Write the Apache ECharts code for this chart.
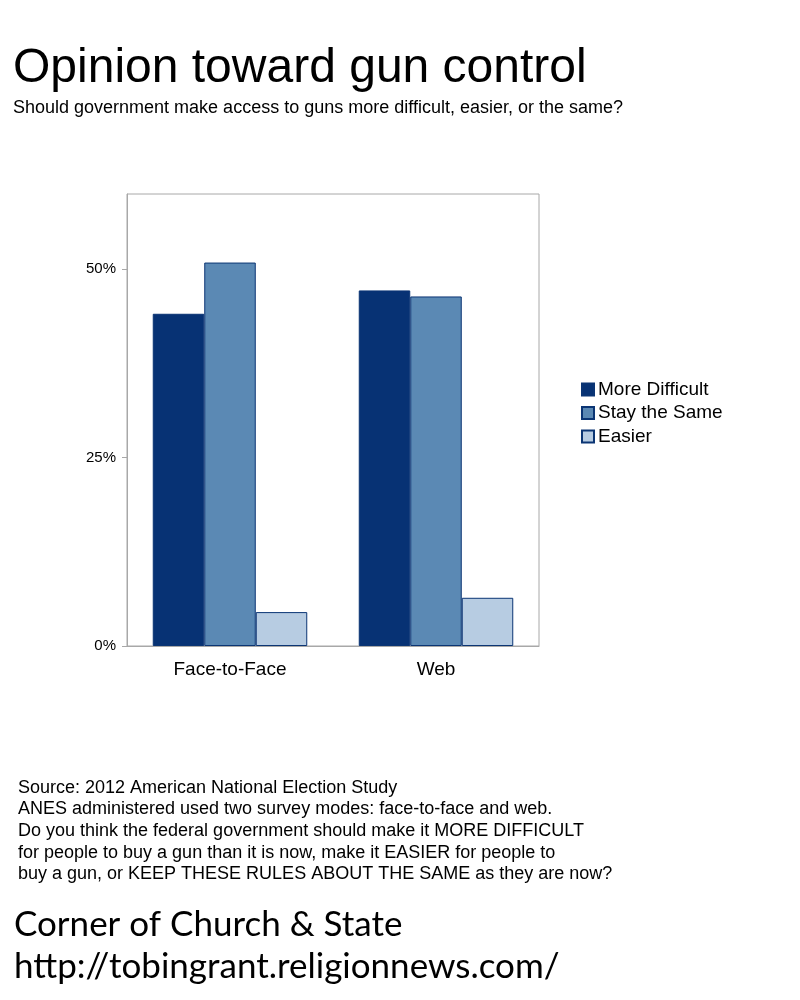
<!DOCTYPE html>
<html>
<head>
<meta charset="utf-8">
<script src="https://cdn.jsdelivr.net/npm/echarts@6/dist/echarts.min.js"></script>
<style>
  html, body { margin: 0; padding: 0; background: #fff; }
  #chart { width: 800px; height: 1000px; }
</style>
</head>
<body>
<div id="chart"></div>
<script>
// 调查方式
var modes = ['Face-to-Face', 'Web']
// 各选项的百分比
var moreDifficult = [44.1, 47.2]
var stayTheSame = [50.9, 46.4]
var easier = [4.5, 6.4]
// 纵轴刻度
var yTicks = [0, 25, 50]

var notes = [
  'Source: 2012 American National Election Study',
  'ANES administered used two survey modes: face-to-face and web.',
  'Do you think the federal government should make it MORE DIFFICULT',
  'for people to buy a gun than it is now, make it EASIER for people to',
  'buy a gun, or KEEP THESE RULES ABOUT THE SAME as they are now?'
]

var chart = echarts.init(document.getElementById('chart'))

var edge = '#0b3574'
var font = '"Liberation Sans", Arial, sans-serif'

chart.setOption({
  animation: false,
  textStyle: { fontFamily: font },
  title: {
    text: 'Opinion toward gun control',
    subtext: 'Should government make access to guns more difficult, easier, or the same?',
    left: 8,
    top: 40,
    itemGap: 6,
    textStyle: { fontSize: 48, fontWeight: 'normal', color: '#000', fontFamily: font },
    subtextStyle: { fontSize: 18, color: '#000', fontFamily: font }
  },
  legend: {
    orient: 'vertical',
    left: 576,
    top: 375,
    itemWidth: 12,
    itemHeight: 12,
    itemGap: 4.5,
    icon: 'rect',
    textStyle: { fontSize: 19, color: '#000', padding: [0, 0, 0, -1] },
    data: ['More Difficult', 'Stay the Same', 'Easier']
  },
  grid: {
    left: 127,
    top: 194,
    width: 412,
    height: 452,
    show: true,
    borderColor: '#a8a8a8',
    borderWidth: 1
  },
  xAxis: {
    type: 'category',
    data: modes,
    axisLine: { lineStyle: { color: '#a8a8a8' } },
    axisTick: { length: 6, lineStyle: { color: '#a8a8a8' } },
    axisLabel: { fontSize: 19, color: '#000', margin: 14 }
  },
  yAxis: {
    type: 'value',
    min: 0,
    max: 60,
    interval: 25,
    splitLine: { show: false },
    axisLine: { show: true, lineStyle: { color: '#a8a8a8' } },
    axisTick: { show: true, length: 5, lineStyle: { color: '#a8a8a8' }, customValues: yTicks },
    axisLabel: {
      fontSize: 15,
      color: '#000',
      margin: 11,
      customValues: yTicks,
      formatter: function (v) { return v + '%' }
    }
  },
  series: [
    {
      name: 'More Difficult',
      type: 'bar',
      data: moreDifficult,
      barGap: 0,
      barCategoryGap: '25%',
      itemStyle: { color: '#073274', borderColor: edge, borderWidth: 1 }
    },
    {
      name: 'Stay the Same',
      type: 'bar',
      data: stayTheSame,
      itemStyle: { color: '#5b89b4', borderColor: edge, borderWidth: 1 }
    },
    {
      name: 'Easier',
      type: 'bar',
      data: easier,
      itemStyle: { color: '#b7cce2', borderColor: edge, borderWidth: 1 }
    }
  ],
  graphic: [
    {
      type: 'text',
      left: 18,
      top: 777,
      style: {
        text: notes.join('\n'),
        font: '18px ' + font,
        lineHeight: 21.6,
        fill: '#000'
      }
    },
    {
      type: 'text',
      left: 14,
      top: 904,
      style: {
        text: 'Corner of Church & State\nhttp://tobingrant.religionnews.com/',
        font: '35px Lato, "Open Sans", sans-serif',
        lineHeight: 42,
        fill: '#000'
      }
    }
  ]
})
</script>
</body>
</html>
